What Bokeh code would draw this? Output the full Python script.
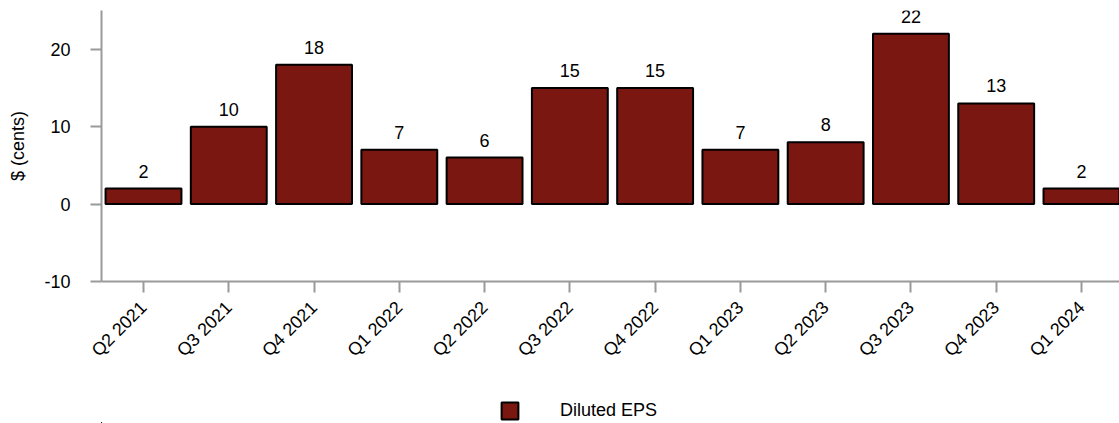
import math
from bokeh.plotting import figure
from bokeh.layouts import column
from bokeh.models import (ColumnDataSource, Range1d, FixedTicker, Legend, LegendItem,
                          LabelSet)
from bokeh.core.properties import value
from bokeh.embed import file_html
from bokeh.resources import INLINE

# Quarterly diluted EPS, in cents
quarters = ["Q2 2021", "Q3 2021", "Q4 2021", "Q1 2022", "Q2 2022", "Q3 2022",
            "Q4 2022", "Q1 2023", "Q2 2023", "Q3 2023", "Q4 2023", "Q1 2024"]
eps_cents = [2, 10, 18, 7, 6, 15, 15, 7, 8, 22, 13, 2]
y_ticks = [-10, 0, 10, 20]
series_name = "Diluted EPS"

FONT = "Liberation Sans"
FONT_SIZE = "18px"
BAR_COLOR = "#7a1711"
AXIS_COLOR = "#9a9a9a"
BAR_STYLE = dict(fill_color=BAR_COLOR, line_color="black", line_width=2)

xs = list(range(len(quarters)))
source = ColumnDataSource(data=dict(x=xs, top=eps_cents,
                                    label=[str(v) for v in eps_cents]))

# main chart: fixed frame, axes on the left and bottom
p = figure(frame_width=1018, frame_height=271, output_backend="svg",
           toolbar_location=None,
           x_range=Range1d(-0.4925, 11.446), y_range=Range1d(-10, 25),
           min_border_left=101, min_border_right=0, min_border_top=10,
           min_border_bottom=110)
p.outline_line_color = None
p.xgrid.grid_line_color = None
p.ygrid.grid_line_color = None

p.vbar(x="x", top="top", bottom=0, width=0.89, source=source, **BAR_STYLE)

labels = LabelSet(x="x", y="top", text="label", source=source,
                  text_align="center", text_baseline="alphabetic", y_offset=11,
                  text_font=value(FONT), text_font_size=FONT_SIZE,
                  text_color="black")
p.add_layout(labels)

# x axis: one tick per quarter, labelled by name
p.xaxis.ticker = FixedTicker(ticks=xs)
p.xaxis.major_label_overrides = {i: q for i, q in enumerate(quarters)}
p.xaxis.major_label_orientation = math.pi / 4
p.xaxis.minor_tick_line_color = None

p.yaxis.ticker = FixedTicker(ticks=y_ticks)
p.yaxis.major_label_overrides = {t: str(t) for t in y_ticks}
p.yaxis.minor_tick_line_color = None
p.yaxis.axis_label = "$ (cents)"
p.yaxis.axis_label_text_font_style = "normal"

for ax in (p.xaxis[0], p.yaxis[0]):
    ax.axis_line_color = AXIS_COLOR
    ax.axis_line_width = 2
    ax.major_tick_line_color = AXIS_COLOR
    ax.major_tick_line_width = 2
    ax.major_tick_out = 11
    ax.major_tick_in = 0
    ax.major_label_text_font = FONT
    ax.major_label_text_font_size = FONT_SIZE
    ax.major_label_text_color = "black"
    ax.axis_label_text_font = FONT
    ax.axis_label_text_font_size = FONT_SIZE
    ax.axis_label_text_color = "black"

p.yaxis.major_label_standoff = 20
p.yaxis.axis_label_standoff = 13
p.xaxis.major_label_standoff = 12

# legend strip under the chart; its bar renderer lies entirely outside the
# strip's ranges so only the legend swatch shows
leg = figure(width=1119, height=32, output_backend="svg", toolbar_location=None,
             x_axis_location=None, y_axis_location=None,
             x_range=Range1d(20, 21), y_range=Range1d(30, 31),
             min_border=0)
leg.outline_line_color = None
leg.xgrid.grid_line_color = None
leg.ygrid.grid_line_color = None
swatch = leg.vbar(x="x", top="top", bottom=0, width=0.89, source=source,
                  **BAR_STYLE)

legend = Legend(items=[LegendItem(label=series_name, renderers=[swatch])],
                location=(398, 2), orientation="horizontal",
                glyph_width=21, glyph_height=21, label_standoff=40,
                label_text_font=FONT, label_text_font_size=FONT_SIZE,
                label_text_color="black",
                padding=0, margin=0, border_line_color=None,
                background_fill_alpha=0)
leg.add_layout(legend)

layout = column(p, leg, spacing=0)
open("out.html", "w").write(file_html(layout, INLINE))
